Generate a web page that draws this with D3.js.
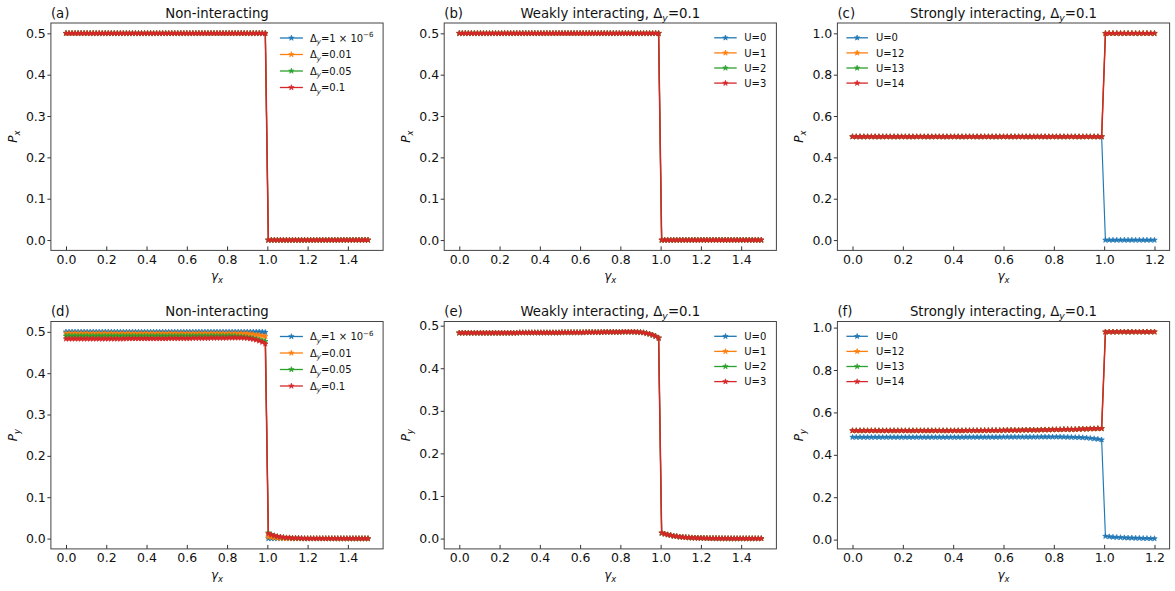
<!DOCTYPE html>
<html>
<head>
<meta charset="utf-8">
<script src="https://cdnjs.cloudflare.com/ajax/libs/d3/7.8.5/d3.min.js"></script>
<style>
  body { margin: 0; background: #fff; }
  svg { font-family: "DejaVu Sans", sans-serif; }
</style>
</head>
<body>
<div id="chart"></div>
<script>

// sample grids (gamma_x), step 0.015
var gammaLong = d3.range(101).map(function(i) { return +(i * 0.015).toFixed(3); });   // 0 .. 1.5
var gammaShort = d3.range(81).map(function(i) { return +(i * 0.015).toFixed(3); });   // 0 .. 1.2

var xTicksLong = [0, 0.2, 0.4, 0.6, 0.8, 1.0, 1.2, 1.4];
var xTicksShort = [0, 0.2, 0.4, 0.6, 0.8, 1.0, 1.2];
var yTicksHalf = [0, 0.1, 0.2, 0.3, 0.4, 0.5];
var yTicksOne = [0, 0.2, 0.4, 0.6, 0.8, 1.0];

var colors = ["#1f77b4", "#ff7f0e", "#2ca02c", "#d62728"];

// (a) P_x, non-interacting: all four Delta_y curves coincide
var pxNonInt = [
  0.5,0.5,0.5,0.5,0.5,0.5,0.5,0.5,0.5,0.5,
  0.5,0.5,0.5,0.5,0.5,0.5,0.5,0.5,0.5,0.5,
  0.5,0.5,0.5,0.5,0.5,0.5,0.5,0.5,0.5,0.5,
  0.5,0.5,0.5,0.5,0.5,0.5,0.5,0.5,0.5,0.5,
  0.5,0.5,0.5,0.5,0.5,0.5,0.5,0.5,0.5,0.5,
  0.5,0.5,0.5,0.5,0.5,0.5,0.5,0.5,0.5,0.5,
  0.5,0.5,0.5,0.5,0.5,0.5,0.5,0,0,0,
  0,0,0,0,0,0,0,0,0,0,
  0,0,0,0,0,0,0,0,0,0,
  0,0,0,0,0,0,0,0,0,0,
  0
];

// (b) P_x, weakly interacting: U=0..3 coincide
var pxWeak = [
  0.5,0.5,0.5,0.5,0.5,0.5,0.5,0.5,0.5,0.5,
  0.5,0.5,0.5,0.5,0.5,0.5,0.5,0.5,0.5,0.5,
  0.5,0.5,0.5,0.5,0.5,0.5,0.5,0.5,0.5,0.5,
  0.5,0.5,0.5,0.5,0.5,0.5,0.5,0.5,0.5,0.5,
  0.5,0.5,0.5,0.5,0.5,0.5,0.5,0.5,0.5,0.5,
  0.5,0.5,0.5,0.5,0.5,0.5,0.5,0.5,0.5,0.5,
  0.5,0.5,0.5,0.5,0.5,0.5,0.5,0,0,0,
  0,0,0,0,0,0,0,0,0,0,
  0,0,0,0,0,0,0,0,0,0,
  0,0,0,0,0,0,0,0,0,0,
  0
];

// (c) P_x, strongly interacting
var pxStrongU0 = [
  0.5,0.5,0.5,0.5,0.5,0.5,0.5,0.5,0.5,0.5,
  0.5,0.5,0.5,0.5,0.5,0.5,0.5,0.5,0.5,0.5,
  0.5,0.5,0.5,0.5,0.5,0.5,0.5,0.5,0.5,0.5,
  0.5,0.5,0.5,0.5,0.5,0.5,0.5,0.5,0.5,0.5,
  0.5,0.5,0.5,0.5,0.5,0.5,0.5,0.5,0.5,0.5,
  0.5,0.5,0.5,0.5,0.5,0.5,0.5,0.5,0.5,0.5,
  0.5,0.5,0.5,0.5,0.5,0.5,0.5,0,0,0,
  0,0,0,0,0,0,0,0,0,0,
  0
];
var pxStrongU14 = [
  0.5,0.5,0.5,0.5,0.5,0.5,0.5,0.5,0.5,0.5,
  0.5,0.5,0.5,0.5,0.5,0.5,0.5,0.5,0.5,0.5,
  0.5,0.5,0.5,0.5,0.5,0.5,0.5,0.5,0.5,0.5,
  0.5,0.5,0.5,0.5,0.5,0.5,0.5,0.5,0.5,0.5,
  0.5,0.5,0.5,0.5,0.5,0.5,0.5,0.5,0.5,0.5,
  0.5,0.5,0.5,0.5,0.5,0.5,0.5,0.5,0.5,0.5,
  0.5,0.5,0.5,0.5,0.5,0.5,0.5,1,1,1,
  1,1,1,1,1,1,1,1,1,1,
  1
];

// (d) P_y, non-interacting
var pyNonIntTiny = [
  0.5,0.5,0.5,0.5,0.5,0.5,0.5,0.5,0.5,0.5,
  0.5,0.5,0.5,0.5,0.5,0.5,0.5,0.5,0.5,0.5,
  0.5,0.5,0.5,0.5,0.5,0.5,0.5,0.5,0.5,0.5,
  0.5,0.5,0.5,0.5,0.5,0.5,0.5,0.5,0.5,0.5,
  0.5,0.5,0.5,0.5,0.5,0.5,0.5,0.5,0.5,0.5,
  0.5,0.5,0.5,0.5,0.5,0.5,0.5,0.5,0.5,0.5,
  0.5,0.5,0.5,0.5,0.5,0.5,0.499,0,0,0,
  0,0,0,0,0,0,0,0,0,0,
  0,0,0,0,0,0,0,0,0,0,
  0,0,0,0,0,0,0,0,0,0,
  0
];
var pyNonInt001 = [
  0.496,0.496,0.496,0.496,0.496,0.496,0.496,0.496,0.496,0.496,
  0.496,0.496,0.496,0.496,0.496,0.496,0.496,0.496,0.496,0.496,
  0.496,0.496,0.496,0.496,0.496,0.496,0.496,0.496,0.496,0.496,
  0.496,0.496,0.496,0.496,0.496,0.496,0.496,0.496,0.496,0.496,
  0.496,0.496,0.496,0.496,0.496,0.496,0.496,0.496,0.496,0.496,
  0.496,0.496,0.496,0.496,0.496,0.496,0.496,0.496,0.496,0.496,
  0.4955,0.495,0.494,0.493,0.492,0.4905,0.489,0.004,0.003,0.002,
  0.001,0.001,0.0005,0,0,0,0,0,0,0,
  0,0,0,0,0,0,0,0,0,0,
  0,0,0,0,0,0,0,0,0,0,
  0
];
var pyNonInt005 = [
  0.49,0.49,0.49,0.49,0.49,0.49,0.49,0.49,0.49,0.49,
  0.49,0.49,0.49,0.49,0.49,0.49,0.49,0.49,0.49,0.49,
  0.49,0.49,0.49,0.49,0.49,0.49,0.49,0.49,0.49,0.49,
  0.49,0.49,0.49,0.49,0.49,0.49,0.49,0.49,0.49,0.49,
  0.49,0.49,0.49,0.49,0.49,0.49,0.49,0.49,0.49,0.49,
  0.49,0.49,0.49,0.49,0.49,0.49,0.4895,0.489,0.4885,0.488,
  0.487,0.486,0.4845,0.483,0.481,0.479,0.477,0.014,0.010,0.007,
  0.005,0.004,0.003,0.002,0.002,0.001,0.001,0.001,0,0,
  0,0,0,0,0,0,0,0,0,0,
  0,0,0,0,0,0,0,0,0,0,
  0
];
var pyNonInt01 = [
  0.483,0.483,0.483,0.483,0.483,0.483,0.483,0.483,0.483,0.483,
  0.483,0.483,0.483,0.483,0.483,0.483,0.483,0.483,0.483,0.483,
  0.4835,0.4835,0.4835,0.4835,0.4835,0.4835,0.4835,0.4835,0.4835,0.4835,
  0.4835,0.4835,0.4835,0.4835,0.484,0.484,0.484,0.484,0.484,0.484,
  0.484,0.484,0.4845,0.4845,0.4845,0.4845,0.4845,0.4845,0.485,0.485,
  0.485,0.485,0.485,0.485,0.4855,0.4855,0.4855,0.4855,0.4855,0.485,
  0.4845,0.4835,0.482,0.4805,0.478,0.475,0.471,0.012,0.009,0.007,
  0.005,0.004,0.003,0.002,0.002,0.001,0.001,0.001,0.0005,0,
  0,0,0,0,0,0,0,0,0,0,
  0,0,0,0,0,0,0,0,0,0,
  0
];

// (e) P_y, weakly interacting: U=0..3 coincide
var pyWeak = [
  0.483,0.483,0.483,0.483,0.483,0.483,0.483,0.483,0.483,0.483,
  0.483,0.483,0.483,0.483,0.483,0.483,0.483,0.483,0.483,0.483,
  0.4835,0.4835,0.4835,0.4835,0.4835,0.4835,0.4835,0.4835,0.4835,0.4835,
  0.4835,0.4835,0.4835,0.4835,0.484,0.484,0.484,0.484,0.484,0.484,
  0.484,0.484,0.4845,0.4845,0.4845,0.4845,0.4845,0.4845,0.485,0.485,
  0.485,0.485,0.485,0.485,0.4855,0.4855,0.4855,0.4855,0.4855,0.485,
  0.4845,0.4835,0.482,0.4805,0.478,0.475,0.471,0.013,0.011,0.009,
  0.0075,0.006,0.005,0.004,0.0033,0.0027,0.0022,0.0018,0.0015,0.0012,
  0.001,0.0008,0.0006,0.0005,0.0004,0.0003,0.0002,0.0002,0.0001,0.0001,
  0,0,0,0,0,0,0,0,0,0,
  0
];

// (f) P_y, strongly interacting
var pyStrongU0 = [
  0.483,0.483,0.483,0.483,0.483,0.483,0.483,0.483,0.483,0.483,
  0.483,0.483,0.483,0.483,0.483,0.483,0.483,0.483,0.483,0.483,
  0.483,0.483,0.483,0.483,0.483,0.483,0.483,0.483,0.483,0.483,
  0.4835,0.4835,0.4835,0.4835,0.4835,0.4835,0.4835,0.4835,0.4835,0.4835,
  0.484,0.484,0.484,0.484,0.484,0.484,0.484,0.484,0.484,0.484,
  0.4845,0.4845,0.4845,0.4845,0.4845,0.4845,0.484,0.4835,0.483,0.4825,
  0.482,0.481,0.480,0.478,0.476,0.474,0.471,0.016,0.014,0.012,
  0.011,0.010,0.009,0.008,0.008,0.007,0.007,0.006,0.006,0.005,
  0.005
];
var pyStrongU14 = [
  0.514,0.514,0.514,0.514,0.514,0.514,0.514,0.514,0.514,0.514,
  0.514,0.514,0.514,0.514,0.514,0.514,0.514,0.514,0.514,0.514,
  0.514,0.514,0.514,0.514,0.514,0.514,0.514,0.514,0.514,0.514,
  0.5145,0.5145,0.5145,0.5145,0.5145,0.515,0.515,0.515,0.515,0.515,
  0.516,0.516,0.516,0.516,0.516,0.517,0.517,0.517,0.517,0.517,
  0.518,0.518,0.518,0.519,0.519,0.519,0.520,0.520,0.520,0.520,
  0.521,0.522,0.522,0.523,0.523,0.524,0.524,0.98,0.98,0.98,
  0.98,0.98,0.98,0.98,0.98,0.98,0.98,0.98,0.98,0.98,
  0.98
];

// legend / title texts (parts: plain, subscript, superscript)
var deltaLegend = [
  [{t: "Δ"}, {t: "y", sub: true, it: true}, {t: "=1 × 10"}, {t: "−6", sup: true}],
  [{t: "Δ"}, {t: "y", sub: true, it: true}, {t: "=0.01"}],
  [{t: "Δ"}, {t: "y", sub: true, it: true}, {t: "=0.05"}],
  [{t: "Δ"}, {t: "y", sub: true, it: true}, {t: "=0.1"}]
];
var weakLegend = [[{t: "U=0"}], [{t: "U=1"}], [{t: "U=2"}], [{t: "U=3"}]];
var strongLegend = [[{t: "U=0"}], [{t: "U=12"}], [{t: "U=13"}], [{t: "U=14"}]];

var titleNon = [{t: "Non-interacting"}];
var titleWeak = [{t: "Weakly interacting, Δ"}, {t: "y", sub: true, it: true}, {t: "=0.1"}];
var titleStrong = [{t: "Strongly interacting, Δ"}, {t: "y", sub: true, it: true}, {t: "=0.1"}];

// layout
var colLeft = [50.9, 444.2, 837.4], axW = 332.2;
var rowTop = [23, 321.5], axH = 227.4;

var legendDelta = { rows: 15, step: 16.5, h0: 229, h1: 252, tx: 259 };
var legendWeak = { rows: 14.8, step: 15.1, h0: 270, h1: 292.5, tx: 300 };
var legendStrong = { rows: 14.8, step: 15.1, h0: 9, h1: 30.5, tx: 38.5 };

var panels = [
  { tag: "(a)", title: titleNon, col: 0, row: 0, x: gammaLong, ys: [pxNonInt, pxNonInt, pxNonInt, pxNonInt],
    legend: deltaLegend, lpos: legendDelta, ysub: "x", xt: xTicksLong, yt: yTicksHalf },
  { tag: "(b)", title: titleWeak, col: 1, row: 0, x: gammaLong, ys: [pxWeak, pxWeak, pxWeak, pxWeak],
    legend: weakLegend, lpos: legendWeak, ysub: "x", xt: xTicksLong, yt: yTicksHalf },
  { tag: "(c)", title: titleStrong, col: 2, row: 0, x: gammaShort, ys: [pxStrongU0, pxStrongU14, pxStrongU14, pxStrongU14],
    legend: strongLegend, lpos: legendStrong, ysub: "x", xt: xTicksShort, yt: yTicksOne },
  { tag: "(d)", title: titleNon, col: 0, row: 1, x: gammaLong, ys: [pyNonIntTiny, pyNonInt001, pyNonInt005, pyNonInt01],
    legend: deltaLegend, lpos: legendDelta, ysub: "y", xt: xTicksLong, yt: yTicksHalf },
  { tag: "(e)", title: titleWeak, col: 1, row: 1, x: gammaLong, ys: [pyWeak, pyWeak, pyWeak, pyWeak],
    legend: weakLegend, lpos: legendWeak, ysub: "y", xt: xTicksLong, yt: yTicksHalf },
  { tag: "(f)", title: titleStrong, col: 2, row: 1, x: gammaShort, ys: [pyStrongU0, pyStrongU14, pyStrongU14, pyStrongU14],
    legend: strongLegend, lpos: legendStrong, ysub: "y", xt: xTicksShort, yt: yTicksOne }
];

var svg = d3.select("#chart").append("svg")
    .attr("width", 1175)
    .attr("height", 591);

var star = d3.symbol().type(d3.symbolStar).size(9);

function richText(sel, parts, size) {
  var shift = 0;
  parts.forEach(function(p) {
    var ts = sel.append("tspan").text(p.t);
    var target = p.sub ? size * 0.25 : (p.sup ? -size * 0.42 : 0);
    ts.attr("dy", target - shift);
    shift = target;
    if (p.sub || p.sup) ts.style("font-size", (size * 0.7) + "px");
    if (p.it) ts.style("font-style", "italic");
  });
}

function padded(lo, hi) {
  var s = hi - lo;
  return [lo - 0.05 * s, hi + 0.05 * s];
}

panels.forEach(function(p) {
  var g = svg.append("g")
      .attr("transform", "translate(" + colLeft[p.col] + "," + rowTop[p.row] + ")");

  var xs = d3.scaleLinear().domain(padded(d3.min(p.x), d3.max(p.x))).range([0, axW]);
  var allY = d3.merge(p.ys);
  var ys = d3.scaleLinear().domain(padded(d3.min(allY), d3.max(allY))).range([axH, 0]);

  // x axis, ticks pointing inward
  var xa = g.append("g")
      .attr("transform", "translate(0," + axH + ")")
      .call(d3.axisBottom(xs).tickValues(p.xt).tickFormat(d3.format(".1f"))
        .tickSizeInner(-4).tickSizeOuter(0).tickPadding(4.3));
  // y axis, ticks outward
  var ya = g.append("g")
      .call(d3.axisLeft(ys).tickValues(p.yt).tickFormat(d3.format(".1f"))
        .tickSizeInner(3.5).tickSizeOuter(0).tickPadding(1.6));

  [xa, ya].forEach(function(a) {
    a.select(".domain").remove();
    a.selectAll("line").attr("stroke", "#333");
    a.selectAll("text").attr("fill", "#111")
      .style("font-size", "12.5px").style("font-family", "DejaVu Sans, sans-serif");
  });

  // series: line + star markers, red drawn last (a bit wider so it covers the others)
  p.ys.forEach(function(vals, si) {
    var pts = vals.map(function(v, i) { return [p.x[i], v]; });
    var line = d3.line()
        .x(function(d) { return xs(d[0]); })
        .y(function(d) { return ys(d[1]); });
    g.append("path")
        .attr("d", line(pts))
        .attr("fill", "none")
        .attr("stroke", colors[si])
        .attr("stroke-width", si === 3 ? 1.5 : 1.15);
    g.append("g").selectAll("path")
      .data(pts)
      .join("path")
        .attr("transform", function(d) { return "translate(" + xs(d[0]) + "," + ys(d[1]) + ")"; })
        .attr("d", star)
        .attr("fill", colors[si])
        .attr("stroke", colors[si])
        .attr("stroke-width", 0.7);
  });

  // frame
  g.append("rect")
      .attr("width", axW)
      .attr("height", axH)
      .attr("fill", "none")
      .attr("stroke", "#444")
      .attr("stroke-width", 1);

  // title and panel tag
  var tt = g.append("text")
      .attr("x", axW / 2)
      .attr("y", -5.5)
      .attr("text-anchor", "middle")
      .style("font-size", "13.3px")
      .attr("fill", "#111");
  richText(tt, p.title, 13.3);
  g.append("text")
      .attr("x", 0)
      .attr("y", -5.5)
      .style("font-size", "13.3px")
      .attr("fill", "#111")
      .text(p.tag);

  // axis labels
  var xl = g.append("text")
      .attr("x", axW / 2)
      .attr("y", axH + 30)
      .attr("text-anchor", "middle")
      .style("font-size", "12px")
      .attr("fill", "#111");
  richText(xl, [{t: "γ", it: true}, {t: "x", sub: true, it: true}], 12);

  var yl = g.append("text")
      .attr("transform", "translate(-34," + (axH / 2) + ") rotate(-90)")
      .attr("text-anchor", "middle")
      .style("font-size", "12px")
      .attr("fill", "#111");
  richText(yl, [{t: "P", it: true}, {t: p.ysub, sub: true, it: true}], 12);

  // legend
  var lp = p.lpos;
  p.legend.forEach(function(parts, i) {
    var ly = lp.rows + i * lp.step;
    var lg = g.append("g").attr("transform", "translate(0," + ly + ")");
    lg.append("line")
        .attr("x1", lp.h0).attr("x2", lp.h1)
        .attr("stroke", colors[i])
        .attr("stroke-width", 1.3);
    lg.append("path")
        .attr("transform", "translate(" + ((lp.h0 + lp.h1) / 2) + ",0)")
        .attr("d", star)
        .attr("fill", colors[i])
        .attr("stroke", colors[i])
        .attr("stroke-width", 0.7);
    var lt = lg.append("text")
        .attr("x", lp.tx)
        .attr("y", 3.6)
        .style("font-size", "10px")
        .attr("fill", "#111");
    richText(lt, parts, 10);
  });
});

</script>
</body>
</html>
